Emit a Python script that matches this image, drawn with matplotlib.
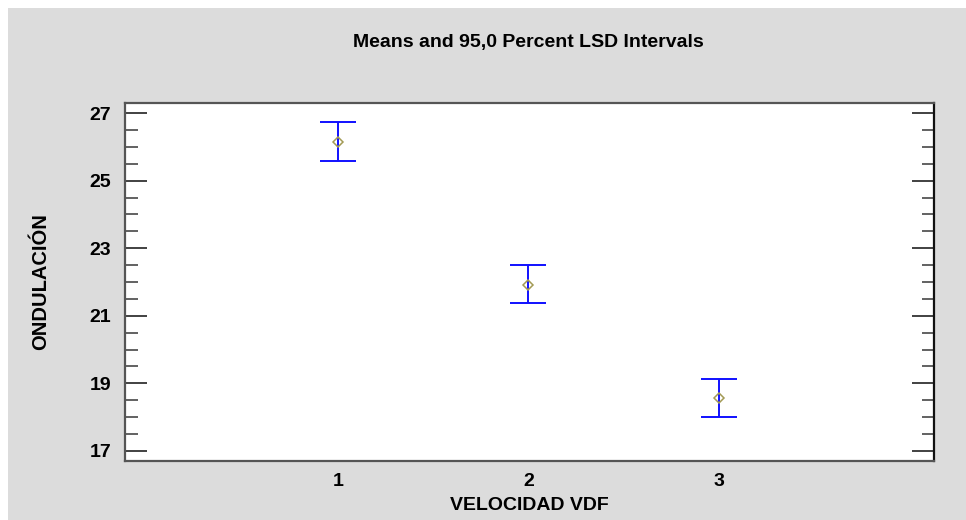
import matplotlib.pyplot as plt
from matplotlib.patches import Rectangle
from matplotlib.ticker import MultipleLocator

# group means and LSD interval bounds
levels = [1, 2, 3]
means = [26.14, 21.91, 18.57]
upper = [26.73, 22.50, 19.13]
lower = [25.58, 21.38, 18.01]

plt.rcParams['font.family'] = ['Liberation Sans', 'DejaVu Sans']

fig = plt.figure(figsize=(9.66, 5.2), dpi=100)
fig.patch.set_facecolor('white')
# gray panel behind the plot, leaving a thin white strip top and left
fig.add_artist(Rectangle((8 / 966, 0), 1 - 8 / 966, 1 - 8 / 520,
                         transform=fig.transFigure, facecolor='#dcdcdc',
                         edgecolor='none', zorder=-10))

ax = fig.add_axes([125 / 966, 1 - 461 / 520, (934 - 125) / 966, (461 - 103) / 520])
ax.set_facecolor('white')

err_lo = [m - l for m, l in zip(means, lower)]
err_hi = [u - m for u, m in zip(upper, means)]
ax.errorbar(levels, means, yerr=[err_lo, err_hi], fmt='none', ecolor='#1010ff',
            elinewidth=1.4, capsize=13, capthick=1.4)
ax.plot(levels, means, linestyle='none', marker='D', markersize=5,
        markerfacecolor='none', markeredgecolor='#a39a55', markeredgewidth=1.1)

ax.set_xlim(-0.118, 4.13)
ax.set_ylim(16.7, 27.3)
ax.set_xticks(levels)
ax.set_xticklabels([str(v) for v in levels])
ax.yaxis.set_minor_locator(MultipleLocator(0.5))
ax.set_yticks([17, 19, 21, 23, 25, 27])

ax.tick_params(axis='x', length=0, pad=9, labelsize=14)
ax.tick_params(axis='y', which='major', direction='in', length=16, width=1.3,
               left=True, right=True, labelsize=14, pad=10, color='#333333')
ax.tick_params(axis='y', which='minor', direction='in', length=9, width=1.3,
               left=True, right=True, color='#555555')
for lab in ax.get_xticklabels() + ax.get_yticklabels():
    lab.set_fontweight('bold')

for side in ['left', 'top', 'bottom']:
    ax.spines[side].set_color('#555555')
    ax.spines[side].set_linewidth(1.6)
ax.spines['right'].set_color('#111111')
ax.spines['right'].set_linewidth(1.6)

ax.set_xlabel('VELOCIDAD VDF', fontsize=14, fontweight='bold', labelpad=5)
ax.set_ylabel('ONDULACIÓN', fontsize=14.5, fontweight='bold', labelpad=28)
fig.text(528 / 966, 1 - 43 / 520, 'Means and 95,0 Percent LSD Intervals',
         ha='center', va='center', fontsize=14, fontweight='bold')

fig.savefig('out.png', dpi=100)
